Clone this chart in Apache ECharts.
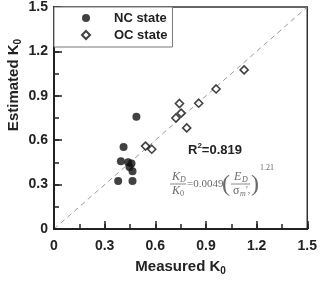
<!DOCTYPE html>
<html>
<head>
<meta charset="utf-8">
<script src="https://cdn.jsdelivr.net/npm/echarts@6/dist/echarts.min.js"></script>
<style>
  html, body { margin: 0; padding: 0; background: #fff; }
  #chart { width: 320px; height: 281px; }
</style>
</head>
<body>
<div id="chart"></div>
<script>
// measured vs estimated K0
const ncMeasured = [0.488, 0.412, 0.396, 0.439, 0.459, 0.447, 0.465, 0.380, 0.465]
const ncEstimated = [0.759, 0.554, 0.458, 0.451, 0.443, 0.419, 0.390, 0.325, 0.325]
const ocMeasured = [0.542, 0.579, 0.722, 0.743, 0.753, 0.786, 0.857, 0.960, 1.126]
const ocEstimated = [0.560, 0.539, 0.750, 0.848, 0.783, 0.683, 0.850, 0.946, 1.075]
const lineOfEquality = [[0, 0], [1.5, 1.5]]
const tickLabels = ['0', '0.3', '0.6', '0.9', '1.2', '1.5']

const zip = (xs, ys) => xs.map((x, i) => [x, ys[i]])
const tickFmt = v => tickLabels[Math.round(v / 0.3)]

const sans = 'Arial, "Liberation Sans", sans-serif'
const serif = '"Liberation Serif", "DejaVu Serif", serif'
const grey = '#6a6a6a'

const majorAxis = {
  type: 'value',
  min: 0,
  max: 1.5,
  interval: 0.3,
  z: 3,
  splitLine: { show: false },
  axisLine: { show: true, onZero: false, lineStyle: { color: '#222', width: 2 } },
  axisTick: { show: true, inside: true, length: 8, lineStyle: { color: '#222', width: 1.5 } },
  axisLabel: { formatter: tickFmt, color: '#222', fontWeight: 'bold', fontSize: 14, fontFamily: sans }
}
// minor ticks every 0.15, drawn by an overlaid axis without labels
const minorAxis = {
  type: 'value',
  min: 0,
  max: 1.5,
  interval: 0.15,
  z: 1,
  splitLine: { show: false },
  axisLine: { show: true, onZero: false, lineStyle: { color: '#222', width: 2 } },
  axisLabel: { show: false },
  axisTick: { show: true, inside: true, length: 5, lineStyle: { color: '#222', width: 1.5 } }
}
const subRich = (size) => ({
  a: { fontSize: size, fontWeight: 'bold', color: '#222', fill: '#222', lineHeight: 18, fontFamily: sans },
  s: { fontSize: 10, fontWeight: 'bold', color: '#222', fill: '#222', lineHeight: 10, verticalAlign: 'bottom', fontFamily: sans }
})

const chart = echarts.init(document.getElementById('chart'))
chart.setOption({
  animation: false,
  grid: { left: 54, right: 9, top: 7, bottom: 44, show: true, borderColor: '#333', borderWidth: 1.5 },
  legend: {
    orient: 'vertical',
    left: 54,
    top: 7,
    z: 5,
    data: ['NC state', 'OC state'],
    itemWidth: 8,
    itemHeight: 8,
    itemGap: 3,
    padding: [4, 5, 5, 27],
    borderColor: '#777',
    borderWidth: 1,
    backgroundColor: '#fff',
    textStyle: { fontSize: 13, fontWeight: 'bold', color: '#222', lineHeight: 14, padding: [0, 0, 0, 19], fontFamily: sans }
  },
  xAxis: [
    Object.assign({}, majorAxis, {
      position: 'bottom',
      axisLabel: Object.assign({}, majorAxis.axisLabel, { margin: 10 }),
      name: '{a|Measured K}{s|0}',
      nameLocation: 'middle',
      nameGap: 29,
      nameTextStyle: { rich: subRich(15) }
    }),
    Object.assign({}, minorAxis, { position: 'bottom' })
  ],
  yAxis: [
    Object.assign({}, majorAxis, {
      position: 'left',
      axisLabel: Object.assign({}, majorAxis.axisLabel, { margin: 6 })
    }),
    Object.assign({}, minorAxis, { position: 'left' })
  ],
  graphic: [
    {
      type: 'text', x: 14, y: 85, rotation: Math.PI / 2,
      style: { text: '{a|Estimated K}{s|0}', align: 'center', verticalAlign: 'middle', rich: subRich(15) }
    },
    {
      type: 'text', x: 188, y: 150,
      style: {
        text: '{a|R}{s|2}{a|=0.819}', verticalAlign: 'middle',
        rich: {
          a: { fontSize: 13, fontWeight: 'bold', fill: '#222', lineHeight: 16, fontFamily: sans },
          s: { fontSize: 8, fontWeight: 'bold', fill: '#222', lineHeight: 8, verticalAlign: 'top', fontFamily: sans }
        }
      }
    },
    // K_D / K_0 = 0.0049 (E_D / sigma_m')^1.21
    { type: 'text', x: 172, y: 177, style: { text: 'K', font: 'italic 12px ' + serif, fill: grey, verticalAlign: 'middle' } },
    { type: 'text', x: 180, y: 180, style: { text: 'D', font: 'italic 8px ' + serif, fill: grey, verticalAlign: 'middle' } },
    { type: 'line', shape: { x1: 170, y1: 184, x2: 186, y2: 184 }, style: { stroke: grey, lineWidth: 0.8 } },
    { type: 'text', x: 172, y: 191, style: { text: 'K', font: 'italic 12px ' + serif, fill: grey, verticalAlign: 'middle' } },
    { type: 'text', x: 180, y: 194, style: { text: '0', font: '8px ' + serif, fill: grey, verticalAlign: 'middle' } },
    { type: 'text', x: 187, y: 184, style: { text: '=0.0049', font: '11px ' + serif, fill: grey, verticalAlign: 'middle' } },
    { type: 'text', x: 222, y: 185, style: { text: '(', font: '24px ' + serif, fill: grey, verticalAlign: 'middle' } },
    { type: 'text', x: 234, y: 177, style: { text: 'E', font: 'italic 12px ' + serif, fill: grey, verticalAlign: 'middle' } },
    { type: 'text', x: 242, y: 180, style: { text: 'D', font: 'italic 8px ' + serif, fill: grey, verticalAlign: 'middle' } },
    { type: 'line', shape: { x1: 231, y1: 184, x2: 250, y2: 184 }, style: { stroke: grey, lineWidth: 0.8 } },
    { type: 'text', x: 233, y: 191, style: { text: 'σ', font: '12px ' + serif, fill: grey, verticalAlign: 'middle' } },
    { type: 'text', x: 240, y: 194, style: { text: 'm', font: 'italic 8px ' + serif, fill: grey, verticalAlign: 'middle' } },
    { type: 'text', x: 246, y: 190, style: { text: '\',', font: '10px ' + serif, fill: grey, verticalAlign: 'middle' } },
    { type: 'text', x: 251, y: 185, style: { text: ')', font: '24px ' + serif, fill: grey, verticalAlign: 'middle' } },
    { type: 'text', x: 260, y: 168, style: { text: '1.21', font: '8px ' + serif, fill: grey, verticalAlign: 'middle' } }
  ],
  series: [
    {
      type: 'line',
      data: lineOfEquality,
      symbol: 'none',
      silent: true,
      lineStyle: { color: '#999', width: 1, type: [5, 4] },
      z: 1
    },
    {
      name: 'NC state',
      type: 'scatter',
      data: zip(ncMeasured, ncEstimated),
      symbol: 'circle',
      symbolSize: 8,
      itemStyle: { color: '#111' },
      z: 3
    },
    {
      name: 'OC state',
      type: 'scatter',
      data: zip(ocMeasured, ocEstimated),
      symbol: 'diamond',
      symbolSize: 8,
      itemStyle: { color: '#fff', borderColor: '#111', borderWidth: 1.6 },
      z: 3
    }
  ]
})
</script>
</body>
</html>
